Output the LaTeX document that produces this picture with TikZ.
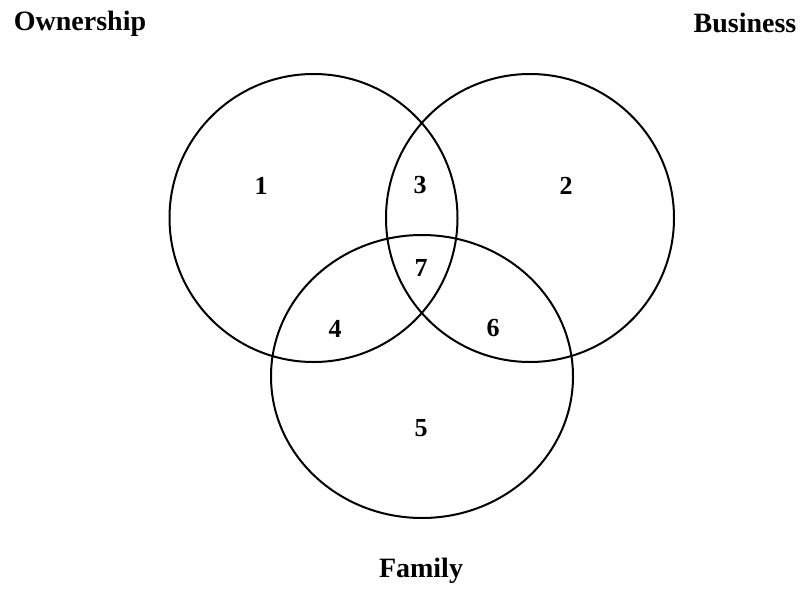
\documentclass[tikz,border=0pt]{standalone}
\usepackage{fontspec}
\setmainfont{Liberation Serif}
\usetikzlibrary{shapes.geometric}
\begin{document}
\begin{tikzpicture}[x=1pt,y=-1pt,
  ring/.style={draw=black, line width=2pt, inner sep=0pt, outer sep=0pt},
  setlabel/.style={font=\fontsize{28}{30}\selectfont\bfseries, inner sep=0pt},
  region/.style={font=\fontsize{26}{28}\selectfont\bfseries, inner sep=0pt}]
\useasboundingbox (0,0) rectangle (803,594);
\node[ring, circle, minimum size=288pt] (own) at (313.5,218) {};
\node[ring, circle, minimum size=288pt] (bus) at (530,218) {};
\node[ring, ellipse, minimum width=302pt, minimum height=283pt] (fam) at (422,376.5) {};
\node[setlabel] (lown) at (80,24) {Ownership};
\node[setlabel] (lbus) at (745,23) {Business};
\node[setlabel] (lfam) at (421,571) {Family};
\node[region] (r1) at (261,186) {1};
\node[region] (r3) at (420,185) {3};
\node[region] (r2) at (566,186) {2};
\node[region] (r7) at (421,268) {7};
\node[region] (r4) at (335,329) {4};
\node[region] (r6) at (493,328) {6};
\node[region] (r5) at (421,428) {5};
\end{tikzpicture}
\end{document}
